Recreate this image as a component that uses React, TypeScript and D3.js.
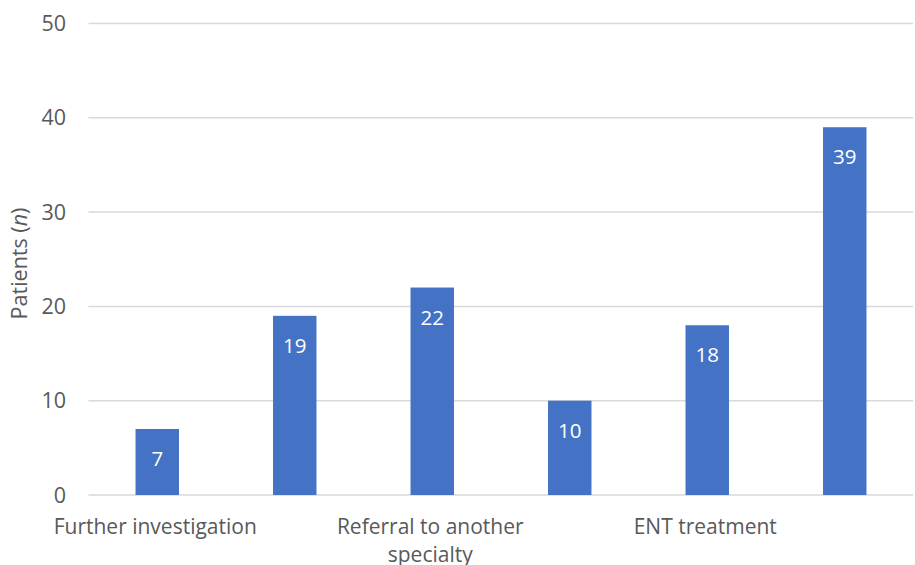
import React from "react";
import * as d3 from "d3";

const categories = ["Further investigation", "", "Referral to another specialty", "", "ENT treatment", ""];
const categoryLines: string[][] = [["Further investigation"], [], ["Referral to another", "specialty"], [], ["ENT treatment"], []];
const values = [7, 19, 22, 10, 18, 39];
const yTicks = [0, 10, 20, 30, 40, 50];

const W = 915;
const H = 565;
const FONT = "'Open Sans', 'Noto Sans', sans-serif";
const TEXT = "#595959";
const BAR = "#4472C4";
const GRID = "#d9d9d9";

export default function App() {
  const x = d3
    .scaleBand<number>()
    .domain(d3.range(categories.length))
    .range([88.5, 913.5])
    .paddingInner(0.684)
    .paddingOuter(0.342);
  const y = d3.scaleLinear().domain([0, 50]).range([495, 23.5]);

  return (
    <svg
      width={W}
      height={H}
      style={{ position: "absolute", left: 0, top: 0, background: "#fff" }}
      fontFamily={FONT}
    >
      {yTicks.map((t) => (
        <g key={t}>
          <line x1={88.5} x2={913} y1={y(t)} y2={y(t)} stroke={GRID} strokeWidth={1.5} />
          <text x={66} y={y(t)} dy="0.35em" textAnchor="end" fontSize={21.5} fill={TEXT}>
            {t}
          </text>
        </g>
      ))}
      {values.map((v, i) => (
        <g key={i}>
          <rect x={x(i)} y={y(v)} width={x.bandwidth()} height={y(0) - y(v)} fill={BAR} />
          <text
            x={(x(i) as number) + x.bandwidth() / 2}
            y={y(v) + 37}
            textAnchor="middle"
            fontSize={20.5}
            fill="#fff"
          >
            {v}
          </text>
        </g>
      ))}
      {categoryLines.map((lines, i) =>
        lines.map((ln, j) => (
          <text
            key={i + "-" + j}
            x={(x(i) as number) + x.bandwidth() / 2 - 2}
            y={534 + j * 28}
            textAnchor="middle"
            fontSize={21}
            fill={TEXT}
          >
            {ln}
          </text>
        ))
      )}
      <text
        transform={`translate(27,263.5) rotate(-90)`}
        textAnchor="middle"
        fontSize={21.5}
        fill={TEXT}
      >
        Patients (<tspan fontStyle="italic">n</tspan>)
      </text>
    </svg>
  );
}
